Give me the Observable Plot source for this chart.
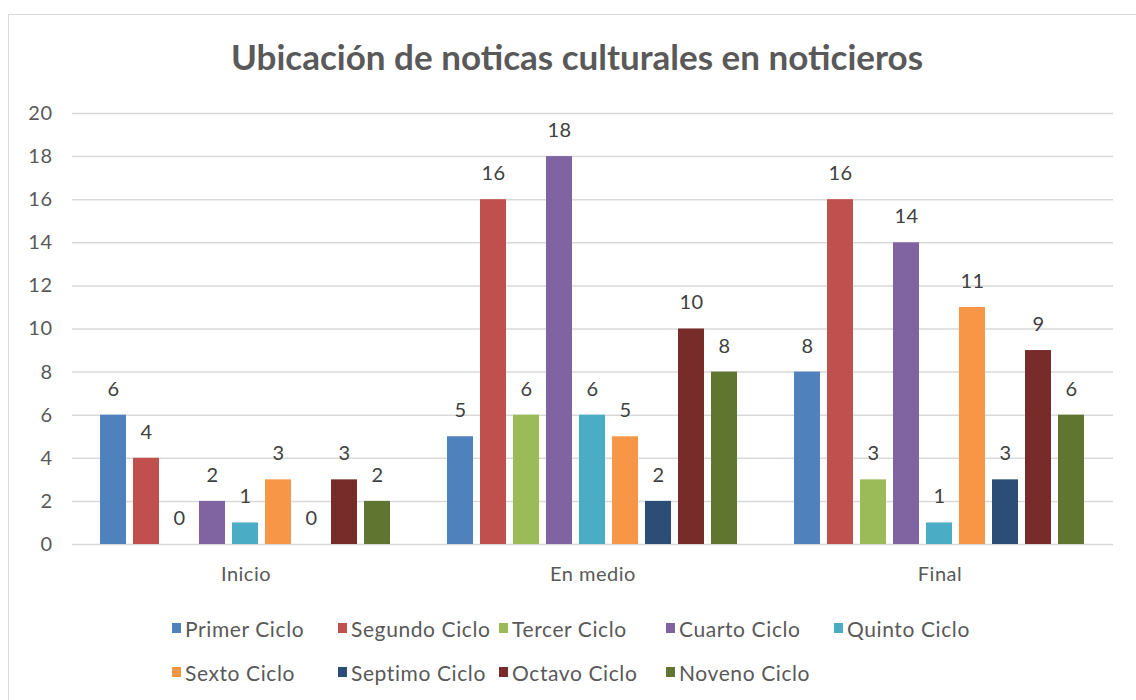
<!DOCTYPE html>
<html>
<head>
<meta charset="utf-8">
<script src="https://cdn.jsdelivr.net/npm/d3@7"></script>
<script src="https://cdn.jsdelivr.net/npm/@observablehq/plot@0.6"></script>
<style>
  body { margin: 0; background: #fff; font-family: Lato, "Open Sans", sans-serif; }
  #frame { position: absolute; left: 8px; top: 14px; width: 1300px; height: 900px; border: 1px solid #d9d9d9; pointer-events: none; }
  #title { height: 90px; display: flex; align-items: flex-start; justify-content: center; }
  #title span { margin-top: 35px; margin-left: 18px; font-size: 35px; font-weight: bold; color: #595959; line-height: 42px; }
  #chart svg { display: block; }
  #legend { position: relative; height: 100px; }
  .item { position: absolute; display: flex; align-items: center; font-size: 21px; letter-spacing: 0.6px; color: #595959; white-space: nowrap; }
  .sw { width: 9px; height: 10px; margin-right: 4px; }
</style>
</head>
<body>
<div id="frame"></div>
<div id="title"><span>Ubicación de noticas culturales en noticieros</span></div>
<div id="chart"></div>
<div id="legend"></div>
<script>
const groups = ["Inicio", "En medio", "Final"];
const series = ["Primer Ciclo", "Segundo Ciclo", "Tercer Ciclo", "Cuarto Ciclo", "Quinto Ciclo", "Sexto Ciclo", "Septimo Ciclo", "Octavo Ciclo", "Noveno Ciclo"];
const inicio = [6, 4, 0, 2, 1, 3, 0, 3, 2];
const enMedio = [5, 16, 6, 18, 6, 5, 2, 10, 8];
const finalVals = [8, 16, 3, 14, 1, 11, 3, 9, 6];
const colors = ["#4F81BD", "#C0504D", "#9BBB59", "#8064A2", "#4BACC6", "#F79646", "#2C4D75", "#772C2A", "#5F7530"];
const yTicks = [0, 2, 4, 6, 8, 10, 12, 14, 16, 18, 20];

const valuesByGroup = [inicio, enMedio, finalVals];
const rows = [];
groups.forEach((g, gi) => series.forEach((s, si) => rows.push({group: g, series: s, value: valuesByGroup[gi][si]})));

const chart = Plot.plot({
  width: 1136,
  height: 510,
  marginTop: 23,
  marginBottom: 56,
  marginLeft: 72,
  marginRight: 23,
  style: {fontFamily: "Lato, 'Open Sans', sans-serif", fontSize: "20px", color: "#595959", background: "white", overflow: "visible", letterSpacing: "0.5px"},
  facet: {data: rows, x: "group"},
  fx: {domain: groups, padding: 0, label: null, axis: "bottom", tickSize: 0, tickPadding: 22},
  x: {domain: series, paddingInner: 0.21, paddingOuter: 0.86, axis: null},
  y: {domain: [0, 20], ticks: 10, tickSize: 0, tickPadding: 20, label: null},
  color: {domain: series, range: colors},
  marks: [
    Plot.ruleY(yTicks, {stroke: "#d9d9d9", strokeWidth: 1.5}),
    Plot.barY(rows, {x: "series", y: "value", fill: "series"}),
    Plot.text(rows, {x: "series", y: "value", text: d => String(d.value), dy: -26, fill: "#404040", fontSize: 20})
  ]
});
document.getElementById("chart").appendChild(chart);

const legend = document.getElementById("legend");
const colX = [172, 338, 499, 666, 834];
series.forEach((s, i) => {
  const row = i < 5 ? 0 : 1;
  const col = i < 5 ? i : i - 5;
  const item = document.createElement("div");
  item.className = "item";
  item.style.left = colX[col] + "px";
  item.style.top = (row === 0 ? 16 : 60) + "px";
  item.style.height = "24px";
  const sw = document.createElement("span");
  sw.className = "sw";
  sw.style.background = colors[i];
  const t = document.createElement("span");
  t.textContent = s;
  item.appendChild(sw);
  item.appendChild(t);
  legend.appendChild(item);
});
</script>
</body>
</html>
